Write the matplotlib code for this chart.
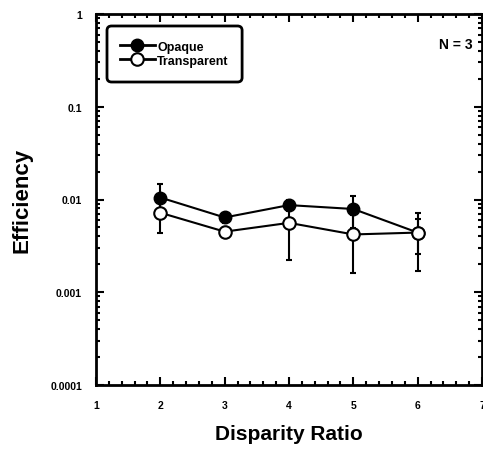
import matplotlib
matplotlib.use("Agg")
import matplotlib.pyplot as plt
from matplotlib.lines import Line2D
from matplotlib.patches import FancyBboxPatch
from matplotlib.ticker import FixedLocator, MultipleLocator, NullFormatter, LogLocator

plt.rcParams['font.family'] = ['Liberation Sans', 'DejaVu Sans']
plt.rcParams['font.weight'] = 'bold'

disparity = [2, 3, 4, 5, 6]
opaque = [0.0105, 0.0064, 0.0087, 0.0079, 0.0044]
opaque_err = [0.0042, 0.0008, 0.0012, 0.0030, 0.0027]
transparent = [0.0072, 0.0045, 0.0056, 0.0042, 0.0044]
transparent_err = [0.0028, 0.0006, 0.0034, 0.0026, 0.0018]
y_ticks = [0.0001, 0.001, 0.01, 0.1, 1]
y_tick_labels = ["0.0001", "0.001", "0.01", "0.1", "1"]
x_ticks = [1, 2, 3, 4, 5, 6, 7]

fig = plt.figure(figsize=(4.83, 4.52), dpi=100)
ax = fig.add_axes([96 / 483, 1 - 386 / 452, 386 / 483, 371 / 452])

ax.errorbar(disparity, opaque, yerr=opaque_err, color='black', marker='o',
            markersize=9, markerfacecolor='black', markeredgecolor='black',
            linewidth=1.5, elinewidth=1.5, capsize=2.5, capthick=1.5, zorder=3)
ax.errorbar(disparity, transparent, yerr=transparent_err, color='black', marker='o',
            markersize=9, markerfacecolor='white', markeredgecolor='black',
            markeredgewidth=1.5, linewidth=1.5, elinewidth=1.5, capsize=2.5,
            capthick=1.5, zorder=4)

ax.set_yscale('log')
ax.set_ylim(0.0001, 1)
ax.set_xlim(1, 7)

ax.yaxis.set_major_locator(FixedLocator(y_ticks))
ax.set_yticklabels(y_tick_labels)
ax.yaxis.set_minor_locator(LogLocator(base=10, subs=range(2, 10)))
ax.yaxis.set_minor_formatter(NullFormatter())
ax.xaxis.set_major_locator(FixedLocator(x_ticks))
ax.xaxis.set_minor_locator(MultipleLocator(0.2))

for s in ax.spines.values():
    s.set_linewidth(2)
ax.tick_params(which='both', direction='in', top=True, right=True, width=1.5)
ax.tick_params(which='major', length=6, labelsize=7.5)
ax.tick_params(axis='x', which='major', pad=11)
ax.tick_params(axis='y', which='major', pad=10)
ax.tick_params(which='minor', length=3)
for lbl in ax.get_xticklabels() + ax.get_yticklabels():
    lbl.set_fontweight('bold')

ax.set_xlabel('Disparity Ratio', fontsize=15, fontweight='bold', labelpad=10)
ax.set_ylabel('Efficiency', fontsize=16, fontweight='bold', labelpad=13)

# legend entries without their own frame; a rounded box is drawn around them
handles = [
    Line2D([], [], color='black', linewidth=2, marker='o', markersize=9,
           markerfacecolor='black', markeredgecolor='black'),
    Line2D([], [], color='black', linewidth=2, marker='o', markersize=9,
           markerfacecolor='white', markeredgecolor='black', markeredgewidth=1.5),
]
leg = ax.legend(handles, ['Opaque', 'Transparent'], loc='upper left',
                bbox_to_anchor=(0.035, 0.955), fontsize=9, frameon=False,
                handlelength=2.8, borderpad=0.3, labelspacing=0.15,
                handletextpad=0.2)
for t in leg.get_texts():
    t.set_fontweight('bold')
box = FancyBboxPatch((0.0285, 0.8167), 0.35, 0.151, transform=ax.transAxes,
                     boxstyle='round,pad=0,rounding_size=0.012',
                     facecolor='none', edgecolor='black', linewidth=2, zorder=5)
ax.add_patch(box)

ax.text(0.975, 0.919, 'N = 3', transform=ax.transAxes, ha='right', va='center',
        fontsize=10, fontweight='bold')

fig.savefig('out.png', dpi=100)
